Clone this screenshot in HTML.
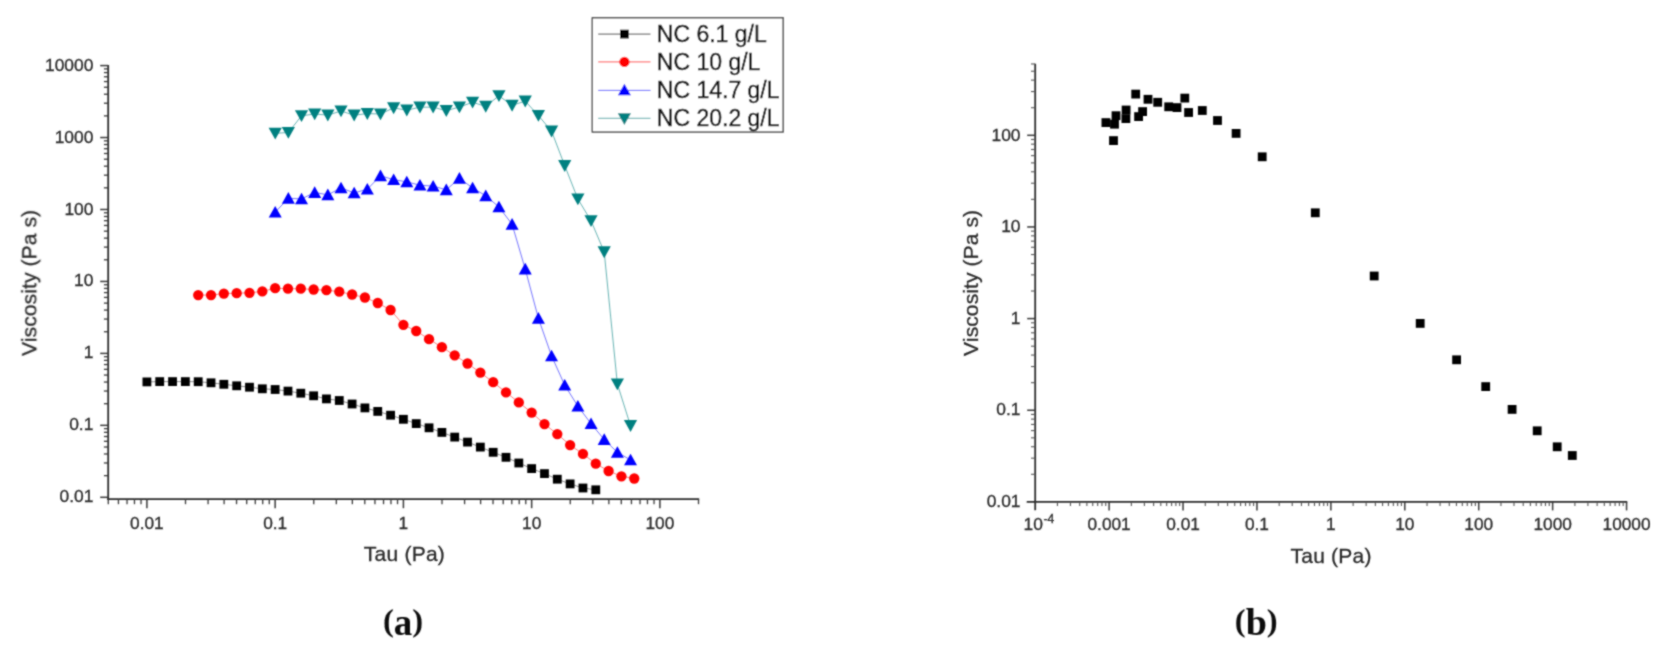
<!DOCTYPE html>
<html><head><meta charset="utf-8"><title>Viscosity vs Tau</title>
<style>
html,body{margin:0;padding:0;background:#fff;}
body{width:1670px;height:659px;overflow:hidden;}
svg{display:block;font-family:"Liberation Sans",sans-serif;}
</style></head><body>
<svg width="1670" height="659" viewBox="0 0 1670 659">
<defs><filter id="soft" x="0" y="0" width="1670" height="659" filterUnits="userSpaceOnUse"><feConvolveMatrix order="3" kernelMatrix="1 2 1 2 8 2 1 2 1" divisor="20" edgeMode="none" preserveAlpha="false"/></filter></defs>
<rect width="1670" height="659" fill="#fff"/>
<g filter="url(#soft)">
<line x1="108.2" y1="64.9" x2="108.2" y2="500.1" stroke="#2c2c2c" stroke-width="1.8" />
<line x1="107.3" y1="499.2" x2="699.21" y2="499.2" stroke="#2c2c2c" stroke-width="1.8" />
<line x1="100.2" y1="65.6" x2="108.2" y2="65.6" stroke="#3a3a3a" stroke-width="1.5" />
<line x1="103.9" y1="115.89" x2="108.2" y2="115.89" stroke="#3a3a3a" stroke-width="1.3" />
<line x1="103.9" y1="103.22" x2="108.2" y2="103.22" stroke="#3a3a3a" stroke-width="1.3" />
<line x1="103.9" y1="94.23" x2="108.2" y2="94.23" stroke="#3a3a3a" stroke-width="1.3" />
<line x1="103.9" y1="87.26" x2="108.2" y2="87.26" stroke="#3a3a3a" stroke-width="1.3" />
<line x1="103.9" y1="81.56" x2="108.2" y2="81.56" stroke="#3a3a3a" stroke-width="1.3" />
<line x1="103.9" y1="76.75" x2="108.2" y2="76.75" stroke="#3a3a3a" stroke-width="1.3" />
<line x1="103.9" y1="72.57" x2="108.2" y2="72.57" stroke="#3a3a3a" stroke-width="1.3" />
<line x1="103.9" y1="68.89" x2="108.2" y2="68.89" stroke="#3a3a3a" stroke-width="1.3" />
<line x1="100.2" y1="137.55" x2="108.2" y2="137.55" stroke="#3a3a3a" stroke-width="1.5" />
<line x1="103.9" y1="187.84" x2="108.2" y2="187.84" stroke="#3a3a3a" stroke-width="1.3" />
<line x1="103.9" y1="175.17" x2="108.2" y2="175.17" stroke="#3a3a3a" stroke-width="1.3" />
<line x1="103.9" y1="166.18" x2="108.2" y2="166.18" stroke="#3a3a3a" stroke-width="1.3" />
<line x1="103.9" y1="159.21" x2="108.2" y2="159.21" stroke="#3a3a3a" stroke-width="1.3" />
<line x1="103.9" y1="153.51" x2="108.2" y2="153.51" stroke="#3a3a3a" stroke-width="1.3" />
<line x1="103.9" y1="148.7" x2="108.2" y2="148.7" stroke="#3a3a3a" stroke-width="1.3" />
<line x1="103.9" y1="144.52" x2="108.2" y2="144.52" stroke="#3a3a3a" stroke-width="1.3" />
<line x1="103.9" y1="140.84" x2="108.2" y2="140.84" stroke="#3a3a3a" stroke-width="1.3" />
<line x1="100.2" y1="209.5" x2="108.2" y2="209.5" stroke="#3a3a3a" stroke-width="1.5" />
<line x1="103.9" y1="259.79" x2="108.2" y2="259.79" stroke="#3a3a3a" stroke-width="1.3" />
<line x1="103.9" y1="247.12" x2="108.2" y2="247.12" stroke="#3a3a3a" stroke-width="1.3" />
<line x1="103.9" y1="238.13" x2="108.2" y2="238.13" stroke="#3a3a3a" stroke-width="1.3" />
<line x1="103.9" y1="231.16" x2="108.2" y2="231.16" stroke="#3a3a3a" stroke-width="1.3" />
<line x1="103.9" y1="225.46" x2="108.2" y2="225.46" stroke="#3a3a3a" stroke-width="1.3" />
<line x1="103.9" y1="220.65" x2="108.2" y2="220.65" stroke="#3a3a3a" stroke-width="1.3" />
<line x1="103.9" y1="216.47" x2="108.2" y2="216.47" stroke="#3a3a3a" stroke-width="1.3" />
<line x1="103.9" y1="212.79" x2="108.2" y2="212.79" stroke="#3a3a3a" stroke-width="1.3" />
<line x1="100.2" y1="281.45" x2="108.2" y2="281.45" stroke="#3a3a3a" stroke-width="1.5" />
<line x1="103.9" y1="331.74" x2="108.2" y2="331.74" stroke="#3a3a3a" stroke-width="1.3" />
<line x1="103.9" y1="319.07" x2="108.2" y2="319.07" stroke="#3a3a3a" stroke-width="1.3" />
<line x1="103.9" y1="310.08" x2="108.2" y2="310.08" stroke="#3a3a3a" stroke-width="1.3" />
<line x1="103.9" y1="303.11" x2="108.2" y2="303.11" stroke="#3a3a3a" stroke-width="1.3" />
<line x1="103.9" y1="297.41" x2="108.2" y2="297.41" stroke="#3a3a3a" stroke-width="1.3" />
<line x1="103.9" y1="292.6" x2="108.2" y2="292.6" stroke="#3a3a3a" stroke-width="1.3" />
<line x1="103.9" y1="288.42" x2="108.2" y2="288.42" stroke="#3a3a3a" stroke-width="1.3" />
<line x1="103.9" y1="284.74" x2="108.2" y2="284.74" stroke="#3a3a3a" stroke-width="1.3" />
<line x1="100.2" y1="353.4" x2="108.2" y2="353.4" stroke="#3a3a3a" stroke-width="1.5" />
<line x1="103.9" y1="403.69" x2="108.2" y2="403.69" stroke="#3a3a3a" stroke-width="1.3" />
<line x1="103.9" y1="391.02" x2="108.2" y2="391.02" stroke="#3a3a3a" stroke-width="1.3" />
<line x1="103.9" y1="382.03" x2="108.2" y2="382.03" stroke="#3a3a3a" stroke-width="1.3" />
<line x1="103.9" y1="375.06" x2="108.2" y2="375.06" stroke="#3a3a3a" stroke-width="1.3" />
<line x1="103.9" y1="369.36" x2="108.2" y2="369.36" stroke="#3a3a3a" stroke-width="1.3" />
<line x1="103.9" y1="364.55" x2="108.2" y2="364.55" stroke="#3a3a3a" stroke-width="1.3" />
<line x1="103.9" y1="360.37" x2="108.2" y2="360.37" stroke="#3a3a3a" stroke-width="1.3" />
<line x1="103.9" y1="356.69" x2="108.2" y2="356.69" stroke="#3a3a3a" stroke-width="1.3" />
<line x1="100.2" y1="425.35" x2="108.2" y2="425.35" stroke="#3a3a3a" stroke-width="1.5" />
<line x1="103.9" y1="475.64" x2="108.2" y2="475.64" stroke="#3a3a3a" stroke-width="1.3" />
<line x1="103.9" y1="462.97" x2="108.2" y2="462.97" stroke="#3a3a3a" stroke-width="1.3" />
<line x1="103.9" y1="453.98" x2="108.2" y2="453.98" stroke="#3a3a3a" stroke-width="1.3" />
<line x1="103.9" y1="447.01" x2="108.2" y2="447.01" stroke="#3a3a3a" stroke-width="1.3" />
<line x1="103.9" y1="441.31" x2="108.2" y2="441.31" stroke="#3a3a3a" stroke-width="1.3" />
<line x1="103.9" y1="436.5" x2="108.2" y2="436.5" stroke="#3a3a3a" stroke-width="1.3" />
<line x1="103.9" y1="432.32" x2="108.2" y2="432.32" stroke="#3a3a3a" stroke-width="1.3" />
<line x1="103.9" y1="428.64" x2="108.2" y2="428.64" stroke="#3a3a3a" stroke-width="1.3" />
<line x1="100.2" y1="497.3" x2="108.2" y2="497.3" stroke="#3a3a3a" stroke-width="1.5" />
<text x="93.4" y="70.6" font-size="17.4" text-anchor="end" fill="#2a2a2a" stroke="#2a2a2a" stroke-width="0.3" >10000</text>
<text x="93.4" y="142.55" font-size="17.4" text-anchor="end" fill="#2a2a2a" stroke="#2a2a2a" stroke-width="0.3" >1000</text>
<text x="93.4" y="214.5" font-size="17.4" text-anchor="end" fill="#2a2a2a" stroke="#2a2a2a" stroke-width="0.3" >100</text>
<text x="93.4" y="286.45" font-size="17.4" text-anchor="end" fill="#2a2a2a" stroke="#2a2a2a" stroke-width="0.3" >10</text>
<text x="93.4" y="358.4" font-size="17.4" text-anchor="end" fill="#2a2a2a" stroke="#2a2a2a" stroke-width="0.3" >1</text>
<text x="93.4" y="430.35" font-size="17.4" text-anchor="end" fill="#2a2a2a" stroke="#2a2a2a" stroke-width="0.3" >0.1</text>
<text x="93.4" y="502.3" font-size="17.4" text-anchor="end" fill="#2a2a2a" stroke="#2a2a2a" stroke-width="0.3" >0.01</text>
<line x1="146.9" y1="499.2" x2="146.9" y2="508.2" stroke="#3a3a3a" stroke-width="1.5" />
<line x1="185.51" y1="499.2" x2="185.51" y2="504.2" stroke="#3a3a3a" stroke-width="1.3" />
<line x1="208.09" y1="499.2" x2="208.09" y2="504.2" stroke="#3a3a3a" stroke-width="1.3" />
<line x1="224.11" y1="499.2" x2="224.11" y2="504.2" stroke="#3a3a3a" stroke-width="1.3" />
<line x1="236.54" y1="499.2" x2="236.54" y2="504.2" stroke="#3a3a3a" stroke-width="1.3" />
<line x1="246.7" y1="499.2" x2="246.7" y2="504.2" stroke="#3a3a3a" stroke-width="1.3" />
<line x1="255.28" y1="499.2" x2="255.28" y2="504.2" stroke="#3a3a3a" stroke-width="1.3" />
<line x1="262.72" y1="499.2" x2="262.72" y2="504.2" stroke="#3a3a3a" stroke-width="1.3" />
<line x1="269.28" y1="499.2" x2="269.28" y2="504.2" stroke="#3a3a3a" stroke-width="1.3" />
<line x1="275.15" y1="499.2" x2="275.15" y2="508.2" stroke="#3a3a3a" stroke-width="1.5" />
<line x1="313.76" y1="499.2" x2="313.76" y2="504.2" stroke="#3a3a3a" stroke-width="1.3" />
<line x1="336.34" y1="499.2" x2="336.34" y2="504.2" stroke="#3a3a3a" stroke-width="1.3" />
<line x1="352.36" y1="499.2" x2="352.36" y2="504.2" stroke="#3a3a3a" stroke-width="1.3" />
<line x1="364.79" y1="499.2" x2="364.79" y2="504.2" stroke="#3a3a3a" stroke-width="1.3" />
<line x1="374.95" y1="499.2" x2="374.95" y2="504.2" stroke="#3a3a3a" stroke-width="1.3" />
<line x1="383.53" y1="499.2" x2="383.53" y2="504.2" stroke="#3a3a3a" stroke-width="1.3" />
<line x1="390.97" y1="499.2" x2="390.97" y2="504.2" stroke="#3a3a3a" stroke-width="1.3" />
<line x1="397.53" y1="499.2" x2="397.53" y2="504.2" stroke="#3a3a3a" stroke-width="1.3" />
<line x1="403.4" y1="499.2" x2="403.4" y2="508.2" stroke="#3a3a3a" stroke-width="1.5" />
<line x1="442.01" y1="499.2" x2="442.01" y2="504.2" stroke="#3a3a3a" stroke-width="1.3" />
<line x1="464.59" y1="499.2" x2="464.59" y2="504.2" stroke="#3a3a3a" stroke-width="1.3" />
<line x1="480.61" y1="499.2" x2="480.61" y2="504.2" stroke="#3a3a3a" stroke-width="1.3" />
<line x1="493.04" y1="499.2" x2="493.04" y2="504.2" stroke="#3a3a3a" stroke-width="1.3" />
<line x1="503.2" y1="499.2" x2="503.2" y2="504.2" stroke="#3a3a3a" stroke-width="1.3" />
<line x1="511.78" y1="499.2" x2="511.78" y2="504.2" stroke="#3a3a3a" stroke-width="1.3" />
<line x1="519.22" y1="499.2" x2="519.22" y2="504.2" stroke="#3a3a3a" stroke-width="1.3" />
<line x1="525.78" y1="499.2" x2="525.78" y2="504.2" stroke="#3a3a3a" stroke-width="1.3" />
<line x1="531.65" y1="499.2" x2="531.65" y2="508.2" stroke="#3a3a3a" stroke-width="1.5" />
<line x1="570.26" y1="499.2" x2="570.26" y2="504.2" stroke="#3a3a3a" stroke-width="1.3" />
<line x1="592.84" y1="499.2" x2="592.84" y2="504.2" stroke="#3a3a3a" stroke-width="1.3" />
<line x1="608.86" y1="499.2" x2="608.86" y2="504.2" stroke="#3a3a3a" stroke-width="1.3" />
<line x1="621.29" y1="499.2" x2="621.29" y2="504.2" stroke="#3a3a3a" stroke-width="1.3" />
<line x1="631.45" y1="499.2" x2="631.45" y2="504.2" stroke="#3a3a3a" stroke-width="1.3" />
<line x1="640.03" y1="499.2" x2="640.03" y2="504.2" stroke="#3a3a3a" stroke-width="1.3" />
<line x1="647.47" y1="499.2" x2="647.47" y2="504.2" stroke="#3a3a3a" stroke-width="1.3" />
<line x1="654.03" y1="499.2" x2="654.03" y2="504.2" stroke="#3a3a3a" stroke-width="1.3" />
<line x1="659.9" y1="499.2" x2="659.9" y2="508.2" stroke="#3a3a3a" stroke-width="1.5" />
<line x1="698.51" y1="499.2" x2="698.51" y2="504.2" stroke="#3a3a3a" stroke-width="1.3" />
<line x1="108.29" y1="499.2" x2="108.29" y2="504.2" stroke="#3a3a3a" stroke-width="1.3" />
<line x1="118.45" y1="499.2" x2="118.45" y2="504.2" stroke="#3a3a3a" stroke-width="1.3" />
<line x1="127.03" y1="499.2" x2="127.03" y2="504.2" stroke="#3a3a3a" stroke-width="1.3" />
<line x1="134.47" y1="499.2" x2="134.47" y2="504.2" stroke="#3a3a3a" stroke-width="1.3" />
<line x1="141.03" y1="499.2" x2="141.03" y2="504.2" stroke="#3a3a3a" stroke-width="1.3" />
<text x="146.9" y="528.9" font-size="17.3" text-anchor="middle" fill="#2a2a2a" stroke="#2a2a2a" stroke-width="0.3" >0.01</text>
<text x="275.15" y="528.9" font-size="17.3" text-anchor="middle" fill="#2a2a2a" stroke="#2a2a2a" stroke-width="0.3" >0.1</text>
<text x="403.4" y="528.9" font-size="17.3" text-anchor="middle" fill="#2a2a2a" stroke="#2a2a2a" stroke-width="0.3" >1</text>
<text x="531.65" y="528.9" font-size="17.3" text-anchor="middle" fill="#2a2a2a" stroke="#2a2a2a" stroke-width="0.3" >10</text>
<text x="659.9" y="528.9" font-size="17.3" text-anchor="middle" fill="#2a2a2a" stroke="#2a2a2a" stroke-width="0.3" >100</text>
<text x="404.3" y="561" font-size="21" text-anchor="middle" fill="#2a2a2a" stroke="#2a2a2a" stroke-width="0.3" textLength="81">Tau (Pa)</text>
<text transform="translate(36.3,282.9) rotate(-90)" font-size="21" text-anchor="middle" textLength="146" fill="#2a2a2a" stroke="#2a2a2a" stroke-width="0.3">Viscosity (Pa s)</text>
<polyline fill="none" stroke="#000" stroke-width="1" stroke-opacity="0.45" points="146.9,381.9 159.72,381.6 172.55,381.6 185.38,381.6 198.2,381.7 211.03,382.8 223.85,384.3 236.68,385.8 249.5,387.2 262.32,388.8 275.15,389.5 287.98,391.1 300.8,393.2 313.62,395.8 326.45,398.9 339.27,400.5 352.1,404 364.92,407.9 377.75,411.4 390.57,415.2 403.4,419.3 416.23,423.6 429.05,427.8 441.88,432.4 454.7,437.1 467.52,442.1 480.35,447.1 493.17,452.3 506,457.3 518.82,463 531.65,468.6 544.48,473.6 557.3,479.2 570.12,483.9 582.95,488 595.77,489.8"/>
<polyline fill="none" stroke="#f00" stroke-width="1" stroke-opacity="0.5" points="198.2,295.1 211.03,295.1 223.85,293.6 236.68,293.2 249.5,292.8 262.32,291.4 275.15,288.2 287.98,288.7 300.8,288.7 313.62,289.5 326.45,290.2 339.27,291.7 352.1,294.5 364.92,297.5 377.75,303 390.57,310 403.4,324.8 416.23,331 429.05,339.2 441.88,347.2 454.7,355.3 467.52,363.5 480.35,372.6 493.17,382.2 506,392.4 518.82,402.4 531.65,412.6 544.48,424.1 557.3,434.1 570.12,445.1 582.95,453.9 595.77,463.7 608.6,471 621.42,476.3 634.25,478.5"/>
<polyline fill="none" stroke="#00f" stroke-width="1" stroke-opacity="0.55" points="275.2,212.2 288.36,198.3 301.52,198.9 314.68,192.5 327.84,194.8 341,187.9 354.16,192.9 367.32,189.2 380.48,175.8 393.64,179.6 406.8,181.9 419.96,185.2 433.12,186.1 446.28,189.8 459.44,178.3 472.6,187.9 485.76,195.8 498.92,206.9 512.08,224.3 525.24,269 538.4,318.3 551.56,355.9 564.72,385.2 577.88,406.2 591.04,423.7 604.2,439.5 617.36,452.4 630.52,459.9"/>
<polyline fill="none" stroke="#008080" stroke-width="1" stroke-opacity="0.6" points="275.2,133.3 288.36,132.5 301.52,115.8 314.68,114 327.84,115.1 341,111 354.16,115.2 367.32,113.6 380.48,114 393.64,107.9 406.8,110.2 419.96,107.2 433.12,107.2 446.28,110.7 459.44,107 472.6,102.3 485.76,106.4 498.92,95.8 512.08,105.4 525.24,101.1 538.4,115.5 551.56,131.2 564.72,165.6 577.88,199 591.04,220.8 604.2,251.9 617.36,384 630.52,425.7"/>
<rect x="142.5" y="377.5" width="8.8" height="8.8" fill="#000"/>
<rect x="155.32" y="377.2" width="8.8" height="8.8" fill="#000"/>
<rect x="168.15" y="377.2" width="8.8" height="8.8" fill="#000"/>
<rect x="180.97" y="377.2" width="8.8" height="8.8" fill="#000"/>
<rect x="193.8" y="377.3" width="8.8" height="8.8" fill="#000"/>
<rect x="206.62" y="378.4" width="8.8" height="8.8" fill="#000"/>
<rect x="219.45" y="379.9" width="8.8" height="8.8" fill="#000"/>
<rect x="232.28" y="381.4" width="8.8" height="8.8" fill="#000"/>
<rect x="245.1" y="382.8" width="8.8" height="8.8" fill="#000"/>
<rect x="257.93" y="384.4" width="8.8" height="8.8" fill="#000"/>
<rect x="270.75" y="385.1" width="8.8" height="8.8" fill="#000"/>
<rect x="283.58" y="386.7" width="8.8" height="8.8" fill="#000"/>
<rect x="296.4" y="388.8" width="8.8" height="8.8" fill="#000"/>
<rect x="309.23" y="391.4" width="8.8" height="8.8" fill="#000"/>
<rect x="322.05" y="394.5" width="8.8" height="8.8" fill="#000"/>
<rect x="334.88" y="396.1" width="8.8" height="8.8" fill="#000"/>
<rect x="347.7" y="399.6" width="8.8" height="8.8" fill="#000"/>
<rect x="360.52" y="403.5" width="8.8" height="8.8" fill="#000"/>
<rect x="373.35" y="407" width="8.8" height="8.8" fill="#000"/>
<rect x="386.18" y="410.8" width="8.8" height="8.8" fill="#000"/>
<rect x="399" y="414.9" width="8.8" height="8.8" fill="#000"/>
<rect x="411.83" y="419.2" width="8.8" height="8.8" fill="#000"/>
<rect x="424.65" y="423.4" width="8.8" height="8.8" fill="#000"/>
<rect x="437.48" y="428" width="8.8" height="8.8" fill="#000"/>
<rect x="450.3" y="432.7" width="8.8" height="8.8" fill="#000"/>
<rect x="463.12" y="437.7" width="8.8" height="8.8" fill="#000"/>
<rect x="475.95" y="442.7" width="8.8" height="8.8" fill="#000"/>
<rect x="488.77" y="447.9" width="8.8" height="8.8" fill="#000"/>
<rect x="501.6" y="452.9" width="8.8" height="8.8" fill="#000"/>
<rect x="514.42" y="458.6" width="8.8" height="8.8" fill="#000"/>
<rect x="527.25" y="464.2" width="8.8" height="8.8" fill="#000"/>
<rect x="540.08" y="469.2" width="8.8" height="8.8" fill="#000"/>
<rect x="552.9" y="474.8" width="8.8" height="8.8" fill="#000"/>
<rect x="565.73" y="479.5" width="8.8" height="8.8" fill="#000"/>
<rect x="578.55" y="483.6" width="8.8" height="8.8" fill="#000"/>
<rect x="591.38" y="485.4" width="8.8" height="8.8" fill="#000"/>
<circle cx="198.2" cy="295.1" r="5.15" fill="#f00"/>
<circle cx="211.03" cy="295.1" r="5.15" fill="#f00"/>
<circle cx="223.85" cy="293.6" r="5.15" fill="#f00"/>
<circle cx="236.68" cy="293.2" r="5.15" fill="#f00"/>
<circle cx="249.5" cy="292.8" r="5.15" fill="#f00"/>
<circle cx="262.32" cy="291.4" r="5.15" fill="#f00"/>
<circle cx="275.15" cy="288.2" r="5.15" fill="#f00"/>
<circle cx="287.98" cy="288.7" r="5.15" fill="#f00"/>
<circle cx="300.8" cy="288.7" r="5.15" fill="#f00"/>
<circle cx="313.62" cy="289.5" r="5.15" fill="#f00"/>
<circle cx="326.45" cy="290.2" r="5.15" fill="#f00"/>
<circle cx="339.27" cy="291.7" r="5.15" fill="#f00"/>
<circle cx="352.1" cy="294.5" r="5.15" fill="#f00"/>
<circle cx="364.92" cy="297.5" r="5.15" fill="#f00"/>
<circle cx="377.75" cy="303" r="5.15" fill="#f00"/>
<circle cx="390.57" cy="310" r="5.15" fill="#f00"/>
<circle cx="403.4" cy="324.8" r="5.15" fill="#f00"/>
<circle cx="416.23" cy="331" r="5.15" fill="#f00"/>
<circle cx="429.05" cy="339.2" r="5.15" fill="#f00"/>
<circle cx="441.88" cy="347.2" r="5.15" fill="#f00"/>
<circle cx="454.7" cy="355.3" r="5.15" fill="#f00"/>
<circle cx="467.52" cy="363.5" r="5.15" fill="#f00"/>
<circle cx="480.35" cy="372.6" r="5.15" fill="#f00"/>
<circle cx="493.17" cy="382.2" r="5.15" fill="#f00"/>
<circle cx="506" cy="392.4" r="5.15" fill="#f00"/>
<circle cx="518.82" cy="402.4" r="5.15" fill="#f00"/>
<circle cx="531.65" cy="412.6" r="5.15" fill="#f00"/>
<circle cx="544.48" cy="424.1" r="5.15" fill="#f00"/>
<circle cx="557.3" cy="434.1" r="5.15" fill="#f00"/>
<circle cx="570.12" cy="445.1" r="5.15" fill="#f00"/>
<circle cx="582.95" cy="453.9" r="5.15" fill="#f00"/>
<circle cx="595.77" cy="463.7" r="5.15" fill="#f00"/>
<circle cx="608.6" cy="471" r="5.15" fill="#f00"/>
<circle cx="621.42" cy="476.3" r="5.15" fill="#f00"/>
<circle cx="634.25" cy="478.5" r="5.15" fill="#f00"/>
<polygon points="275.2,206 281.7,217.6 268.7,217.6" fill="#00f"/>
<polygon points="288.36,192.1 294.86,203.7 281.86,203.7" fill="#00f"/>
<polygon points="301.52,192.7 308.02,204.3 295.02,204.3" fill="#00f"/>
<polygon points="314.68,186.3 321.18,197.9 308.18,197.9" fill="#00f"/>
<polygon points="327.84,188.6 334.34,200.2 321.34,200.2" fill="#00f"/>
<polygon points="341,181.7 347.5,193.3 334.5,193.3" fill="#00f"/>
<polygon points="354.16,186.7 360.66,198.3 347.66,198.3" fill="#00f"/>
<polygon points="367.32,183 373.82,194.6 360.82,194.6" fill="#00f"/>
<polygon points="380.48,169.6 386.98,181.2 373.98,181.2" fill="#00f"/>
<polygon points="393.64,173.4 400.14,185 387.14,185" fill="#00f"/>
<polygon points="406.8,175.7 413.3,187.3 400.3,187.3" fill="#00f"/>
<polygon points="419.96,179 426.46,190.6 413.46,190.6" fill="#00f"/>
<polygon points="433.12,179.9 439.62,191.5 426.62,191.5" fill="#00f"/>
<polygon points="446.28,183.6 452.78,195.2 439.78,195.2" fill="#00f"/>
<polygon points="459.44,172.1 465.94,183.7 452.94,183.7" fill="#00f"/>
<polygon points="472.6,181.7 479.1,193.3 466.1,193.3" fill="#00f"/>
<polygon points="485.76,189.6 492.26,201.2 479.26,201.2" fill="#00f"/>
<polygon points="498.92,200.7 505.42,212.3 492.42,212.3" fill="#00f"/>
<polygon points="512.08,218.1 518.58,229.7 505.58,229.7" fill="#00f"/>
<polygon points="525.24,262.8 531.74,274.4 518.74,274.4" fill="#00f"/>
<polygon points="538.4,312.1 544.9,323.7 531.9,323.7" fill="#00f"/>
<polygon points="551.56,349.7 558.06,361.3 545.06,361.3" fill="#00f"/>
<polygon points="564.72,379 571.22,390.6 558.22,390.6" fill="#00f"/>
<polygon points="577.88,400 584.38,411.6 571.38,411.6" fill="#00f"/>
<polygon points="591.04,417.5 597.54,429.1 584.54,429.1" fill="#00f"/>
<polygon points="604.2,433.3 610.7,444.9 597.7,444.9" fill="#00f"/>
<polygon points="617.36,446.2 623.86,457.8 610.86,457.8" fill="#00f"/>
<polygon points="630.52,453.7 637.02,465.3 624.02,465.3" fill="#00f"/>
<polygon points="275.2,139.6 281.8,127.7 268.6,127.7" fill="#008080"/>
<polygon points="288.36,138.8 294.96,126.9 281.76,126.9" fill="#008080"/>
<polygon points="301.52,122.1 308.12,110.2 294.92,110.2" fill="#008080"/>
<polygon points="314.68,120.3 321.28,108.4 308.08,108.4" fill="#008080"/>
<polygon points="327.84,121.4 334.44,109.5 321.24,109.5" fill="#008080"/>
<polygon points="341,117.3 347.6,105.4 334.4,105.4" fill="#008080"/>
<polygon points="354.16,121.5 360.76,109.6 347.56,109.6" fill="#008080"/>
<polygon points="367.32,119.9 373.92,108 360.72,108" fill="#008080"/>
<polygon points="380.48,120.3 387.08,108.4 373.88,108.4" fill="#008080"/>
<polygon points="393.64,114.2 400.24,102.3 387.04,102.3" fill="#008080"/>
<polygon points="406.8,116.5 413.4,104.6 400.2,104.6" fill="#008080"/>
<polygon points="419.96,113.5 426.56,101.6 413.36,101.6" fill="#008080"/>
<polygon points="433.12,113.5 439.72,101.6 426.52,101.6" fill="#008080"/>
<polygon points="446.28,117 452.88,105.1 439.68,105.1" fill="#008080"/>
<polygon points="459.44,113.3 466.04,101.4 452.84,101.4" fill="#008080"/>
<polygon points="472.6,108.6 479.2,96.7 466,96.7" fill="#008080"/>
<polygon points="485.76,112.7 492.36,100.8 479.16,100.8" fill="#008080"/>
<polygon points="498.92,102.1 505.52,90.2 492.32,90.2" fill="#008080"/>
<polygon points="512.08,111.7 518.68,99.8 505.48,99.8" fill="#008080"/>
<polygon points="525.24,107.4 531.84,95.5 518.64,95.5" fill="#008080"/>
<polygon points="538.4,121.8 545,109.9 531.8,109.9" fill="#008080"/>
<polygon points="551.56,137.5 558.16,125.6 544.96,125.6" fill="#008080"/>
<polygon points="564.72,171.9 571.32,160 558.12,160" fill="#008080"/>
<polygon points="577.88,205.3 584.48,193.4 571.28,193.4" fill="#008080"/>
<polygon points="591.04,227.1 597.64,215.2 584.44,215.2" fill="#008080"/>
<polygon points="604.2,258.2 610.8,246.3 597.6,246.3" fill="#008080"/>
<polygon points="617.36,390.3 623.96,378.4 610.76,378.4" fill="#008080"/>
<polygon points="630.52,432 637.12,420.1 623.92,420.1" fill="#008080"/>
<rect x="592.3" y="17.8" width="190.8" height="114.2" fill="#fff" stroke="#444" stroke-width="1.4"/>
<line x1="598.2" y1="34.1" x2="650.5" y2="34.1" stroke="#000" stroke-width="1" stroke-opacity="0.7"/>
<rect x="620" y="29.7" width="8.8" height="8.8" fill="#000"/>
<text x="656.8" y="41.9" font-size="23" fill="#0c0c0c" stroke="#0c0c0c" stroke-width="0.45">NC 6.1 g/L</text>
<line x1="598.2" y1="61.9" x2="650.5" y2="61.9" stroke="#f00" stroke-width="1" stroke-opacity="0.7"/>
<circle cx="624.4" cy="61.9" r="5.15" fill="#f00"/>
<text x="656.8" y="69.7" font-size="23" fill="#0c0c0c" stroke="#0c0c0c" stroke-width="0.45">NC 10 g/L</text>
<line x1="598.2" y1="90.4" x2="650.5" y2="90.4" stroke="#00f" stroke-width="1" stroke-opacity="0.7"/>
<polygon points="624.4,83.7 630.9,95.3 617.9,95.3" fill="#00f"/>
<text x="656.8" y="98.2" font-size="23" fill="#0c0c0c" stroke="#0c0c0c" stroke-width="0.45">NC 14.7 g/L</text>
<line x1="598.2" y1="118.3" x2="650.5" y2="118.3" stroke="#008080" stroke-width="1" stroke-opacity="0.7"/>
<polygon points="624.4,125.1 631,113.2 617.8,113.2" fill="#008080"/>
<text x="656.8" y="126.1" font-size="23" fill="#0c0c0c" stroke="#0c0c0c" stroke-width="0.45">NC 20.2 g/L</text>
<text x="403.1" y="634.5" font-size="32.6" text-anchor="middle" fill="#111" font-family="'Liberation Serif', serif" font-weight="bold"><tspan dy="-3.2">(</tspan><tspan font-size="37" dy="3.2">a</tspan><tspan dy="-3.2">)</tspan></text>
<line x1="1035.2" y1="63.7" x2="1035.2" y2="510.2" stroke="#2c2c2c" stroke-width="1.8" />
<line x1="1026.7" y1="501.9" x2="1627.26" y2="501.9" stroke="#2c2c2c" stroke-width="1.8" />
<line x1="1027.2" y1="135.3" x2="1035.2" y2="135.3" stroke="#3a3a3a" stroke-width="1.5" />
<line x1="1031" y1="107.71" x2="1035.2" y2="107.71" stroke="#555" stroke-width="1.1" />
<line x1="1031" y1="91.57" x2="1035.2" y2="91.57" stroke="#555" stroke-width="1.1" />
<line x1="1031" y1="80.12" x2="1035.2" y2="80.12" stroke="#555" stroke-width="1.1" />
<line x1="1031" y1="71.24" x2="1035.2" y2="71.24" stroke="#555" stroke-width="1.1" />
<line x1="1031" y1="63.98" x2="1035.2" y2="63.98" stroke="#555" stroke-width="1.1" />
<line x1="1027.2" y1="226.95" x2="1035.2" y2="226.95" stroke="#3a3a3a" stroke-width="1.5" />
<line x1="1031" y1="199.36" x2="1035.2" y2="199.36" stroke="#555" stroke-width="1.1" />
<line x1="1031" y1="183.22" x2="1035.2" y2="183.22" stroke="#555" stroke-width="1.1" />
<line x1="1031" y1="171.77" x2="1035.2" y2="171.77" stroke="#555" stroke-width="1.1" />
<line x1="1031" y1="162.89" x2="1035.2" y2="162.89" stroke="#555" stroke-width="1.1" />
<line x1="1031" y1="155.63" x2="1035.2" y2="155.63" stroke="#555" stroke-width="1.1" />
<line x1="1031" y1="149.5" x2="1035.2" y2="149.5" stroke="#555" stroke-width="1.1" />
<line x1="1031" y1="144.18" x2="1035.2" y2="144.18" stroke="#555" stroke-width="1.1" />
<line x1="1031" y1="139.49" x2="1035.2" y2="139.49" stroke="#555" stroke-width="1.1" />
<line x1="1027.2" y1="318.6" x2="1035.2" y2="318.6" stroke="#3a3a3a" stroke-width="1.5" />
<line x1="1031" y1="291.01" x2="1035.2" y2="291.01" stroke="#555" stroke-width="1.1" />
<line x1="1031" y1="274.87" x2="1035.2" y2="274.87" stroke="#555" stroke-width="1.1" />
<line x1="1031" y1="263.42" x2="1035.2" y2="263.42" stroke="#555" stroke-width="1.1" />
<line x1="1031" y1="254.54" x2="1035.2" y2="254.54" stroke="#555" stroke-width="1.1" />
<line x1="1031" y1="247.28" x2="1035.2" y2="247.28" stroke="#555" stroke-width="1.1" />
<line x1="1031" y1="241.15" x2="1035.2" y2="241.15" stroke="#555" stroke-width="1.1" />
<line x1="1031" y1="235.83" x2="1035.2" y2="235.83" stroke="#555" stroke-width="1.1" />
<line x1="1031" y1="231.14" x2="1035.2" y2="231.14" stroke="#555" stroke-width="1.1" />
<line x1="1027.2" y1="410.25" x2="1035.2" y2="410.25" stroke="#3a3a3a" stroke-width="1.5" />
<line x1="1031" y1="382.66" x2="1035.2" y2="382.66" stroke="#555" stroke-width="1.1" />
<line x1="1031" y1="366.52" x2="1035.2" y2="366.52" stroke="#555" stroke-width="1.1" />
<line x1="1031" y1="355.07" x2="1035.2" y2="355.07" stroke="#555" stroke-width="1.1" />
<line x1="1031" y1="346.19" x2="1035.2" y2="346.19" stroke="#555" stroke-width="1.1" />
<line x1="1031" y1="338.93" x2="1035.2" y2="338.93" stroke="#555" stroke-width="1.1" />
<line x1="1031" y1="332.8" x2="1035.2" y2="332.8" stroke="#555" stroke-width="1.1" />
<line x1="1031" y1="327.48" x2="1035.2" y2="327.48" stroke="#555" stroke-width="1.1" />
<line x1="1031" y1="322.79" x2="1035.2" y2="322.79" stroke="#555" stroke-width="1.1" />
<line x1="1031" y1="474.31" x2="1035.2" y2="474.31" stroke="#555" stroke-width="1.1" />
<line x1="1031" y1="458.17" x2="1035.2" y2="458.17" stroke="#555" stroke-width="1.1" />
<line x1="1031" y1="446.72" x2="1035.2" y2="446.72" stroke="#555" stroke-width="1.1" />
<line x1="1031" y1="437.84" x2="1035.2" y2="437.84" stroke="#555" stroke-width="1.1" />
<line x1="1031" y1="430.58" x2="1035.2" y2="430.58" stroke="#555" stroke-width="1.1" />
<line x1="1031" y1="424.45" x2="1035.2" y2="424.45" stroke="#555" stroke-width="1.1" />
<line x1="1031" y1="419.13" x2="1035.2" y2="419.13" stroke="#555" stroke-width="1.1" />
<line x1="1031" y1="414.44" x2="1035.2" y2="414.44" stroke="#555" stroke-width="1.1" />
<text x="1020.5" y="140.5" font-size="17.4" text-anchor="end" fill="#2a2a2a" stroke="#2a2a2a" stroke-width="0.3" >100</text>
<text x="1020.5" y="232.15" font-size="17.4" text-anchor="end" fill="#2a2a2a" stroke="#2a2a2a" stroke-width="0.3" >10</text>
<text x="1020.5" y="323.8" font-size="17.4" text-anchor="end" fill="#2a2a2a" stroke="#2a2a2a" stroke-width="0.3" >1</text>
<text x="1020.5" y="415.45" font-size="17.4" text-anchor="end" fill="#2a2a2a" stroke="#2a2a2a" stroke-width="0.3" >0.1</text>
<text x="1020.5" y="507.1" font-size="17.4" text-anchor="end" fill="#2a2a2a" stroke="#2a2a2a" stroke-width="0.3" >0.01</text>
<line x1="1057.45" y1="501.9" x2="1057.45" y2="506" stroke="#555" stroke-width="1.1" />
<line x1="1070.47" y1="501.9" x2="1070.47" y2="506" stroke="#555" stroke-width="1.1" />
<line x1="1079.7" y1="501.9" x2="1079.7" y2="506" stroke="#555" stroke-width="1.1" />
<line x1="1086.87" y1="501.9" x2="1086.87" y2="506" stroke="#555" stroke-width="1.1" />
<line x1="1092.72" y1="501.9" x2="1092.72" y2="506" stroke="#555" stroke-width="1.1" />
<line x1="1097.67" y1="501.9" x2="1097.67" y2="506" stroke="#555" stroke-width="1.1" />
<line x1="1101.96" y1="501.9" x2="1101.96" y2="506" stroke="#555" stroke-width="1.1" />
<line x1="1105.74" y1="501.9" x2="1105.74" y2="506" stroke="#555" stroke-width="1.1" />
<line x1="1109.12" y1="501.9" x2="1109.12" y2="510.4" stroke="#3a3a3a" stroke-width="1.5" />
<line x1="1131.37" y1="501.9" x2="1131.37" y2="506" stroke="#555" stroke-width="1.1" />
<line x1="1144.39" y1="501.9" x2="1144.39" y2="506" stroke="#555" stroke-width="1.1" />
<line x1="1153.62" y1="501.9" x2="1153.62" y2="506" stroke="#555" stroke-width="1.1" />
<line x1="1160.79" y1="501.9" x2="1160.79" y2="506" stroke="#555" stroke-width="1.1" />
<line x1="1166.64" y1="501.9" x2="1166.64" y2="506" stroke="#555" stroke-width="1.1" />
<line x1="1171.59" y1="501.9" x2="1171.59" y2="506" stroke="#555" stroke-width="1.1" />
<line x1="1175.88" y1="501.9" x2="1175.88" y2="506" stroke="#555" stroke-width="1.1" />
<line x1="1179.66" y1="501.9" x2="1179.66" y2="506" stroke="#555" stroke-width="1.1" />
<line x1="1183.04" y1="501.9" x2="1183.04" y2="510.4" stroke="#3a3a3a" stroke-width="1.5" />
<line x1="1205.29" y1="501.9" x2="1205.29" y2="506" stroke="#555" stroke-width="1.1" />
<line x1="1218.31" y1="501.9" x2="1218.31" y2="506" stroke="#555" stroke-width="1.1" />
<line x1="1227.54" y1="501.9" x2="1227.54" y2="506" stroke="#555" stroke-width="1.1" />
<line x1="1234.71" y1="501.9" x2="1234.71" y2="506" stroke="#555" stroke-width="1.1" />
<line x1="1240.56" y1="501.9" x2="1240.56" y2="506" stroke="#555" stroke-width="1.1" />
<line x1="1245.51" y1="501.9" x2="1245.51" y2="506" stroke="#555" stroke-width="1.1" />
<line x1="1249.8" y1="501.9" x2="1249.8" y2="506" stroke="#555" stroke-width="1.1" />
<line x1="1253.58" y1="501.9" x2="1253.58" y2="506" stroke="#555" stroke-width="1.1" />
<line x1="1256.96" y1="501.9" x2="1256.96" y2="510.4" stroke="#3a3a3a" stroke-width="1.5" />
<line x1="1279.21" y1="501.9" x2="1279.21" y2="506" stroke="#555" stroke-width="1.1" />
<line x1="1292.23" y1="501.9" x2="1292.23" y2="506" stroke="#555" stroke-width="1.1" />
<line x1="1301.46" y1="501.9" x2="1301.46" y2="506" stroke="#555" stroke-width="1.1" />
<line x1="1308.63" y1="501.9" x2="1308.63" y2="506" stroke="#555" stroke-width="1.1" />
<line x1="1314.48" y1="501.9" x2="1314.48" y2="506" stroke="#555" stroke-width="1.1" />
<line x1="1319.43" y1="501.9" x2="1319.43" y2="506" stroke="#555" stroke-width="1.1" />
<line x1="1323.72" y1="501.9" x2="1323.72" y2="506" stroke="#555" stroke-width="1.1" />
<line x1="1327.5" y1="501.9" x2="1327.5" y2="506" stroke="#555" stroke-width="1.1" />
<line x1="1330.88" y1="501.9" x2="1330.88" y2="510.4" stroke="#3a3a3a" stroke-width="1.5" />
<line x1="1353.13" y1="501.9" x2="1353.13" y2="506" stroke="#555" stroke-width="1.1" />
<line x1="1366.15" y1="501.9" x2="1366.15" y2="506" stroke="#555" stroke-width="1.1" />
<line x1="1375.38" y1="501.9" x2="1375.38" y2="506" stroke="#555" stroke-width="1.1" />
<line x1="1382.55" y1="501.9" x2="1382.55" y2="506" stroke="#555" stroke-width="1.1" />
<line x1="1388.4" y1="501.9" x2="1388.4" y2="506" stroke="#555" stroke-width="1.1" />
<line x1="1393.35" y1="501.9" x2="1393.35" y2="506" stroke="#555" stroke-width="1.1" />
<line x1="1397.64" y1="501.9" x2="1397.64" y2="506" stroke="#555" stroke-width="1.1" />
<line x1="1401.42" y1="501.9" x2="1401.42" y2="506" stroke="#555" stroke-width="1.1" />
<line x1="1404.8" y1="501.9" x2="1404.8" y2="510.4" stroke="#3a3a3a" stroke-width="1.5" />
<line x1="1427.05" y1="501.9" x2="1427.05" y2="506" stroke="#555" stroke-width="1.1" />
<line x1="1440.07" y1="501.9" x2="1440.07" y2="506" stroke="#555" stroke-width="1.1" />
<line x1="1449.3" y1="501.9" x2="1449.3" y2="506" stroke="#555" stroke-width="1.1" />
<line x1="1456.47" y1="501.9" x2="1456.47" y2="506" stroke="#555" stroke-width="1.1" />
<line x1="1462.32" y1="501.9" x2="1462.32" y2="506" stroke="#555" stroke-width="1.1" />
<line x1="1467.27" y1="501.9" x2="1467.27" y2="506" stroke="#555" stroke-width="1.1" />
<line x1="1471.56" y1="501.9" x2="1471.56" y2="506" stroke="#555" stroke-width="1.1" />
<line x1="1475.34" y1="501.9" x2="1475.34" y2="506" stroke="#555" stroke-width="1.1" />
<line x1="1478.72" y1="501.9" x2="1478.72" y2="510.4" stroke="#3a3a3a" stroke-width="1.5" />
<line x1="1500.97" y1="501.9" x2="1500.97" y2="506" stroke="#555" stroke-width="1.1" />
<line x1="1513.99" y1="501.9" x2="1513.99" y2="506" stroke="#555" stroke-width="1.1" />
<line x1="1523.22" y1="501.9" x2="1523.22" y2="506" stroke="#555" stroke-width="1.1" />
<line x1="1530.39" y1="501.9" x2="1530.39" y2="506" stroke="#555" stroke-width="1.1" />
<line x1="1536.24" y1="501.9" x2="1536.24" y2="506" stroke="#555" stroke-width="1.1" />
<line x1="1541.19" y1="501.9" x2="1541.19" y2="506" stroke="#555" stroke-width="1.1" />
<line x1="1545.48" y1="501.9" x2="1545.48" y2="506" stroke="#555" stroke-width="1.1" />
<line x1="1549.26" y1="501.9" x2="1549.26" y2="506" stroke="#555" stroke-width="1.1" />
<line x1="1552.64" y1="501.9" x2="1552.64" y2="510.4" stroke="#3a3a3a" stroke-width="1.5" />
<line x1="1574.89" y1="501.9" x2="1574.89" y2="506" stroke="#555" stroke-width="1.1" />
<line x1="1587.91" y1="501.9" x2="1587.91" y2="506" stroke="#555" stroke-width="1.1" />
<line x1="1597.14" y1="501.9" x2="1597.14" y2="506" stroke="#555" stroke-width="1.1" />
<line x1="1604.31" y1="501.9" x2="1604.31" y2="506" stroke="#555" stroke-width="1.1" />
<line x1="1610.16" y1="501.9" x2="1610.16" y2="506" stroke="#555" stroke-width="1.1" />
<line x1="1615.11" y1="501.9" x2="1615.11" y2="506" stroke="#555" stroke-width="1.1" />
<line x1="1619.4" y1="501.9" x2="1619.4" y2="506" stroke="#555" stroke-width="1.1" />
<line x1="1623.18" y1="501.9" x2="1623.18" y2="506" stroke="#555" stroke-width="1.1" />
<line x1="1626.56" y1="501.9" x2="1626.56" y2="510.4" stroke="#3a3a3a" stroke-width="1.5" />
<text x="1109.12" y="530.4" font-size="17.3" text-anchor="middle" fill="#2a2a2a" stroke="#2a2a2a" stroke-width="0.3" >0.001</text>
<text x="1183.04" y="530.4" font-size="17.3" text-anchor="middle" fill="#2a2a2a" stroke="#2a2a2a" stroke-width="0.3" >0.01</text>
<text x="1256.96" y="530.4" font-size="17.3" text-anchor="middle" fill="#2a2a2a" stroke="#2a2a2a" stroke-width="0.3" >0.1</text>
<text x="1330.88" y="530.4" font-size="17.3" text-anchor="middle" fill="#2a2a2a" stroke="#2a2a2a" stroke-width="0.3" >1</text>
<text x="1404.8" y="530.4" font-size="17.3" text-anchor="middle" fill="#2a2a2a" stroke="#2a2a2a" stroke-width="0.3" >10</text>
<text x="1478.72" y="530.4" font-size="17.3" text-anchor="middle" fill="#2a2a2a" stroke="#2a2a2a" stroke-width="0.3" >100</text>
<text x="1552.64" y="530.4" font-size="17.3" text-anchor="middle" fill="#2a2a2a" stroke="#2a2a2a" stroke-width="0.3" >1000</text>
<text x="1626.56" y="530.4" font-size="17.3" text-anchor="middle" fill="#2a2a2a" stroke="#2a2a2a" stroke-width="0.3" >10000</text>
<text x="1023.6" y="530.4" font-size="17.4" fill="#2a2a2a" stroke="#2a2a2a" stroke-width="0.3">10<tspan font-size="12.2" dy="-7.2" dx="0.6">-4</tspan></text>
<text x="1331" y="563.3" font-size="21" text-anchor="middle" fill="#2a2a2a" stroke="#2a2a2a" stroke-width="0.3" textLength="81">Tau (Pa)</text>
<text transform="translate(977.6,282.9) rotate(-90)" font-size="21" text-anchor="middle" textLength="146" fill="#2a2a2a" stroke="#2a2a2a" stroke-width="0.3">Viscosity (Pa s)</text>
<rect x="1101.5" y="118.2" width="8.8" height="8.8" fill="#000"/>
<rect x="1110.1" y="119.8" width="8.8" height="8.8" fill="#000"/>
<rect x="1111.6" y="111.3" width="8.8" height="8.8" fill="#000"/>
<rect x="1109.1" y="136.2" width="8.8" height="8.8" fill="#000"/>
<rect x="1121.5" y="114.2" width="8.8" height="8.8" fill="#000"/>
<rect x="1121.7" y="105.6" width="8.8" height="8.8" fill="#000"/>
<rect x="1131.3" y="89.7" width="8.8" height="8.8" fill="#000"/>
<rect x="1134.2" y="112.2" width="8.8" height="8.8" fill="#000"/>
<rect x="1138.2" y="107.2" width="8.8" height="8.8" fill="#000"/>
<rect x="1143.6" y="94.9" width="8.8" height="8.8" fill="#000"/>
<rect x="1153.3" y="97.9" width="8.8" height="8.8" fill="#000"/>
<rect x="1164.3" y="102.4" width="8.8" height="8.8" fill="#000"/>
<rect x="1172.6" y="103.2" width="8.8" height="8.8" fill="#000"/>
<rect x="1180.4" y="93.7" width="8.8" height="8.8" fill="#000"/>
<rect x="1184.2" y="108.1" width="8.8" height="8.8" fill="#000"/>
<rect x="1197.9" y="106.1" width="8.8" height="8.8" fill="#000"/>
<rect x="1213.1" y="116.1" width="8.8" height="8.8" fill="#000"/>
<rect x="1231.7" y="129" width="8.8" height="8.8" fill="#000"/>
<rect x="1257.8" y="152.4" width="8.8" height="8.8" fill="#000"/>
<rect x="1310.9" y="208.4" width="8.8" height="8.8" fill="#000"/>
<rect x="1369.8" y="271.6" width="8.8" height="8.8" fill="#000"/>
<rect x="1415.8" y="319" width="8.8" height="8.8" fill="#000"/>
<rect x="1452.2" y="355.4" width="8.8" height="8.8" fill="#000"/>
<rect x="1481.3" y="382.2" width="8.8" height="8.8" fill="#000"/>
<rect x="1507.7" y="405" width="8.8" height="8.8" fill="#000"/>
<rect x="1532.8" y="426.4" width="8.8" height="8.8" fill="#000"/>
<rect x="1552.8" y="442.4" width="8.8" height="8.8" fill="#000"/>
<rect x="1567.9" y="451.1" width="8.8" height="8.8" fill="#000"/>
<text x="1256.2" y="634.5" font-size="32.6" text-anchor="middle" fill="#111" font-family="'Liberation Serif', serif" font-weight="bold"><tspan dy="-3.2">(</tspan><tspan font-size="38" dy="3.2">b</tspan><tspan dy="-3.2">)</tspan></text>
</g>
</svg>
</body></html>
